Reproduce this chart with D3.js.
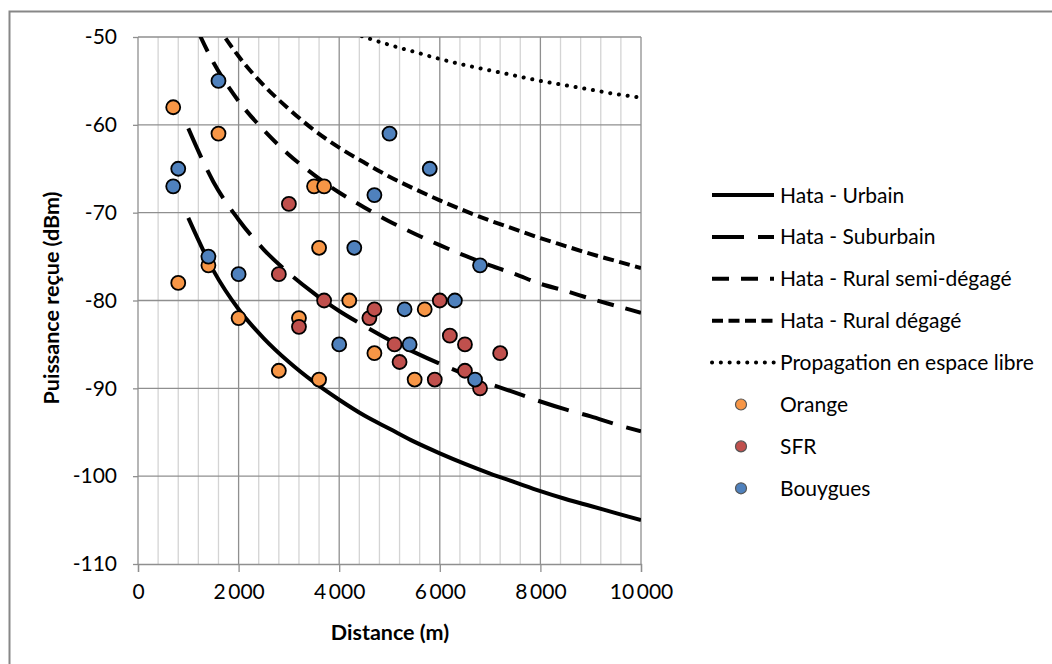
<!DOCTYPE html>
<html>
<head>
<meta charset="utf-8">
<script src="https://cdn.jsdelivr.net/npm/d3@7"></script>
<style>
  html, body { margin: 0; padding: 0; background: #fff; }
  svg { display: block; }
  text { font-family: Lato, "Open Sans", sans-serif; fill: #000; }
</style>
</head>
<body>
<svg id="chart" width="1052" height="664"></svg>
<script>
// Distances (m) at which the propagation models are evaluated
const distances = [1000, 1500, 2000, 2500, 3000, 3500, 4000, 4500, 5000, 5500,
                   6000, 6500, 7000, 7500, 8000, 8500, 9000, 9500, 10000];

// Received power (dBm) for each model
const hataUrbain = [-70.6, -76.6, -81.0, -84.3, -87.0, -89.3, -91.3, -93.1, -94.6, -96.1,
                    -97.4, -98.6, -99.7, -100.7, -101.7, -102.6, -103.4, -104.2, -105.0];
const hataSuburbain = [-60.4, -66.5, -70.8, -74.2, -76.9, -79.2, -81.2, -82.9, -84.5, -85.9,
                       -87.2, -88.4, -89.5, -90.5, -91.5, -92.4, -93.2, -94.1, -94.9];
const hataRuralSemi = [-46.9, -52.9, -57.3, -60.6, -63.4, -65.7, -67.7, -69.4, -71.0, -72.4,
                       -73.7, -74.9, -76.0, -77.0, -78.1, -78.9, -79.8, -80.6, -81.4];
const hataRuralDegage = [-41.8, -47.9, -52.2, -55.5, -58.2, -60.6, -62.6, -64.3, -65.9, -67.3,
                         -68.6, -69.8, -70.9, -71.9, -72.9, -73.8, -74.7, -75.5, -76.3];
const espaceLibre = [-36.9, -40.4, -42.9, -44.8, -46.4, -47.7, -48.9, -50.0, -50.9, -51.7,
                     -52.5, -53.2, -53.8, -54.4, -55.0, -55.5, -56.0, -56.5, -56.9];

// Measurements per operator: [distance (m), power (dBm)]
const orange = [[700, -58], [800, -78], [1400, -76], [1600, -61], [2000, -82], [2800, -88],
                [3200, -82], [3500, -67], [3600, -74], [3600, -89], [3700, -67], [4200, -80],
                [4700, -86], [5500, -89], [5700, -81]];
const sfr = [[2800, -77], [3000, -69], [3200, -83], [3700, -80], [4600, -82], [4700, -81],
             [5100, -85], [5200, -87], [5900, -89], [6000, -80], [6200, -84], [6500, -85],
             [6500, -88], [6800, -90], [7200, -86]];
const bouygues = [[700, -67], [800, -65], [1400, -75], [1600, -55], [2000, -77], [4000, -85],
                  [4300, -74], [4700, -68], [5000, -61], [5300, -81], [5400, -85], [5800, -65],
                  [6300, -80], [6700, -89], [6800, -76]];

// Axis ticks
const xTicks = [0, 2000, 4000, 6000, 8000, 10000];
const xMinorTicks = d3.range(0, 10001, 400);
const yTicks = [-110, -100, -90, -80, -70, -60, -50];

const svg = d3.select("#chart");
const W = 1052, H = 664;

// Chart frame
svg.append("rect")
  .attr("x", 9.5).attr("y", 11.5)
  .attr("width", W + 20).attr("height", H + 20)
  .attr("fill", "#fff").attr("stroke", "#878787").attr("stroke-width", 2);

const plot = { left: 138, right: 641, top: 37, bottom: 564 };
const x = d3.scaleLinear().domain([0, 10000]).range([plot.left, plot.right]);
const y = d3.scaleLinear().domain([-110, -50]).range([plot.bottom, plot.top]);

const fr = d3.formatLocale({ decimal: ",", thousands: "\u2009", grouping: [3], currency: ["", " €"] });
const fmtX = fr.format(",d");
const fmtY = d => String(d);

// Minor vertical gridlines
svg.append("g").selectAll("line")
  .data(xMinorTicks.filter(d => d % 2000 !== 0))
  .join("line")
  .attr("x1", d => x(d)).attr("x2", d => x(d))
  .attr("y1", plot.top).attr("y2", plot.bottom)
  .attr("stroke", "#d4d4d4").attr("stroke-width", 1.3);

// Major vertical gridlines
svg.append("g").selectAll("line")
  .data(xTicks.filter(d => d > 0))
  .join("line")
  .attr("x1", d => x(d)).attr("x2", d => x(d))
  .attr("y1", plot.top).attr("y2", plot.bottom)
  .attr("stroke", "#8f8f8f").attr("stroke-width", 1.3);

// Horizontal gridlines
svg.append("g").selectAll("line")
  .data(yTicks.filter(d => d > -110))
  .join("line")
  .attr("x1", plot.left).attr("x2", plot.right)
  .attr("y1", d => y(d)).attr("y2", d => y(d))
  .attr("stroke", "#8f8f8f").attr("stroke-width", 1.3);

// Axes
const xAxis = d3.axisBottom(x).tickValues(xTicks).tickSize(8).tickPadding(12).tickFormat(fmtX);
const yAxis = d3.axisLeft(y).tickValues(yTicks).tickSize(5).tickPadding(16).tickFormat(fmtY);

const gx = svg.append("g").attr("transform", `translate(0,${plot.bottom})`).call(xAxis);
const gy = svg.append("g").attr("transform", `translate(${plot.left},0)`).call(yAxis);
[gx, gy].forEach(g => {
  g.select(".domain").attr("stroke", "#8f8f8f").attr("stroke-width", 1.3);
  g.selectAll(".tick line").attr("stroke", "#8f8f8f").attr("stroke-width", 1.3);
  g.selectAll(".tick text").attr("font-family", "Lato, sans-serif").attr("font-size", 21).attr("fill", "#000");
});
gy.select(".domain").attr("d", `M-0,${plot.bottom}V${plot.top}`);

// Axis titles
svg.append("text")
  .attr("x", 390).attr("y", 640)
  .attr("text-anchor", "middle")
  .attr("font-size", 21.5).attr("font-weight", "bold")
  .text("Distance (m)");
svg.append("text")
  .attr("transform", "translate(59,298) rotate(-90)")
  .attr("text-anchor", "middle")
  .attr("font-size", 21.5).attr("font-weight", "bold")
  .text("Puissance reçue (dBm)");

// Model curves
svg.append("clipPath").attr("id", "plot-clip")
  .append("rect")
  .attr("x", plot.left).attr("y", plot.top)
  .attr("width", plot.right - plot.left).attr("height", plot.bottom - plot.top);

const models = [
  { name: "Hata - Urbain", values: hataUrbain, dash: null, cap: "butt", width: 4 },
  { name: "Hata - Suburbain", values: hataSuburbain, dash: "32,14", cap: "butt", width: 4 },
  { name: "Hata - Rural semi-dégagé", values: hataRuralSemi, dash: "17,12", cap: "butt", width: 4 },
  { name: "Hata - Rural dégagé", values: hataRuralDegage, dash: "11,5.5", cap: "butt", width: 4 },
  { name: "Propagation en espace libre", values: espaceLibre, dash: "0.1,8.7", cap: "round", width: 4 }
];

const line = d3.line()
  .x(d => x(d[0]))
  .y(d => y(d[1]))
  .curve(d3.curveMonotoneX);

const curves = svg.append("g").attr("clip-path", "url(#plot-clip)");
models.forEach(m => {
  curves.append("path")
    .datum(distances.map((d, i) => [d, m.values[i]]))
    .attr("d", line)
    .attr("fill", "none")
    .attr("stroke", "#000")
    .attr("stroke-width", m.width)
    .attr("stroke-linecap", m.cap)
    .attr("stroke-dasharray", m.dash);
});

// Measurement points
const operators = [
  { name: "Orange", values: orange, color: "#F79646" },
  { name: "SFR", values: sfr, color: "#C0504D" },
  { name: "Bouygues", values: bouygues, color: "#4F81BD" }
];
const pts = svg.append("g");
operators.forEach(op => {
  pts.append("g").selectAll("circle")
    .data(op.values)
    .join("circle")
    .attr("cx", d => x(d[0]))
    .attr("cy", d => y(d[1]))
    .attr("r", 7)
    .attr("fill", op.color)
    .attr("stroke", "#000")
    .attr("stroke-width", 1.8);
});

// Legend
const legend = svg.append("g");
const rowY = i => 195 + i * 41.9;
models.forEach((m, i) => {
  const g = legend.append("g").attr("transform", `translate(0,${rowY(i)})`);
  g.append("line")
    .attr("x1", 712).attr("x2", 774).attr("y1", 0).attr("y2", 0)
    .attr("stroke", "#000").attr("stroke-width", m.width)
    .attr("stroke-linecap", m.cap)
    .attr("stroke-dasharray", m.dash);
  g.append("text").attr("x", 780).attr("y", 7.5).attr("font-size", 21).text(m.name);
});
operators.forEach((op, j) => {
  const g = legend.append("g").attr("transform", `translate(0,${rowY(models.length + j)})`);
  g.append("circle").attr("cx", 741).attr("cy", 0).attr("r", 5.5)
    .attr("fill", op.color).attr("stroke", "#555").attr("stroke-width", 1.2);
  g.append("text").attr("x", 780).attr("y", 7.5).attr("font-size", 21).text(op.name);
});
</script>
</body>
</html>
